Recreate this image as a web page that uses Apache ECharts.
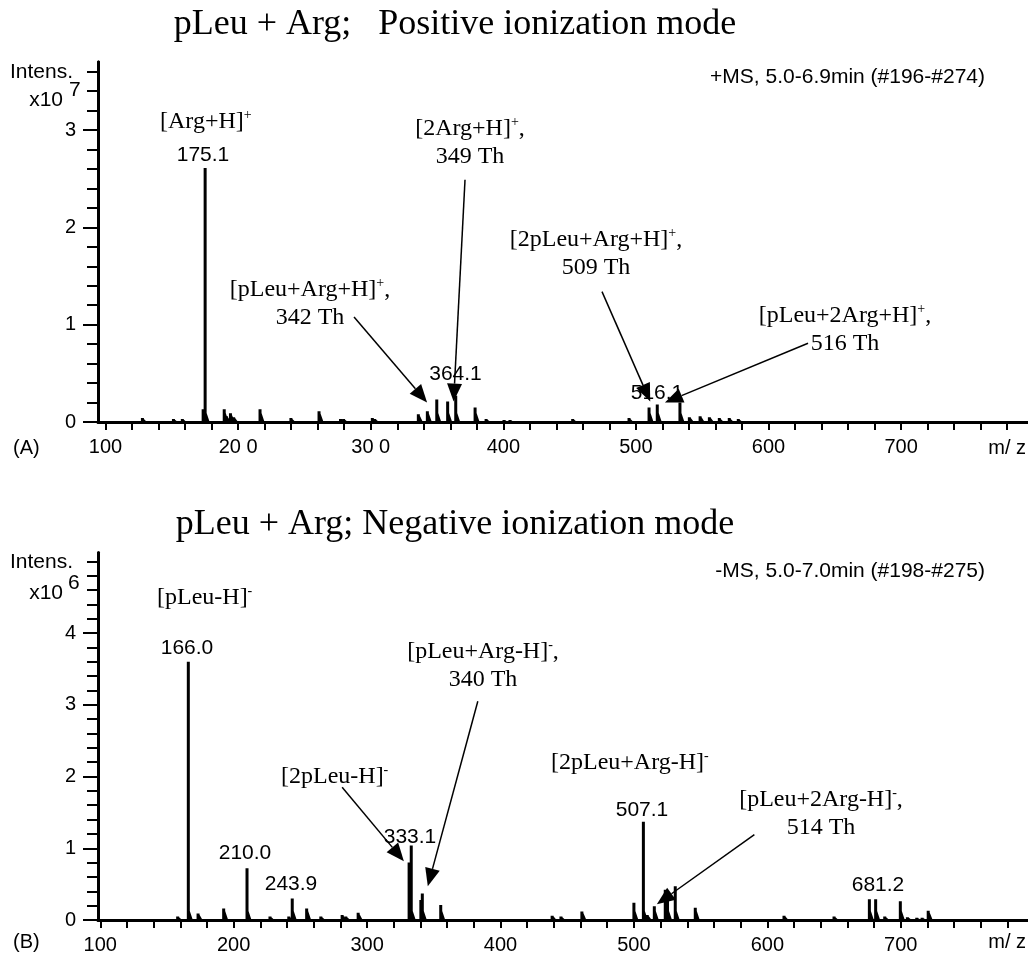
<!DOCTYPE html>
<html lang="en">
<head>
<meta charset="UTF-8">
<title>pLeu + Arg</title>
<style>
  html, body { margin: 0; padding: 0; background: #fff; }
  #main { width: 1028px; height: 955px; }
</style>
</head>
<body>
<div id="main"></div>
<script src="https://cdn.jsdelivr.net/npm/echarts@6/dist/echarts.min.js"></script>
<script>
// peaks: [m/z, intensity]
// (A) positive mode, intensity x10^7
var posPeaks = [
  [127.8, 0.04], [151.2, 0.03], [157.9, 0.03], [173.6, 0.13], [175.1, 2.61],
  [189.5, 0.13], [191.2, 0.06], [194.2, 0.09], [196.6, 0.05], [216.5, 0.13],
  [239.8, 0.04], [261.0, 0.11], [277.2, 0.03], [279.5, 0.03], [301.2, 0.04],
  [303.0, 0.03], [335.9, 0.08], [342.7, 0.11], [349.8, 0.23], [358.0, 0.21],
  [364.1, 0.27], [378.7, 0.15], [387.0, 0.03], [400.5, 0.02], [405.0, 0.02],
  [452.3, 0.03], [494.8, 0.04], [509.9, 0.15], [516.1, 0.18], [533.2, 0.20],
  [540.3, 0.05], [548.4, 0.06], [555.4, 0.05], [562.9, 0.04], [570.4, 0.04],
  [577.2, 0.03]
];
// (B) negative mode, intensity x10^6
var negPeaks = [
  [158.0, 0.05], [166.0, 3.60], [173.3, 0.09], [192.5, 0.16], [210.0, 0.72],
  [227.2, 0.05], [241.3, 0.05], [243.9, 0.30], [254.7, 0.16], [265.3, 0.05],
  [281.3, 0.07], [284.0, 0.05], [293.3, 0.10], [331.5, 0.80], [333.1, 1.04],
  [340.3, 0.28], [341.4, 0.37], [355.2, 0.21], [438.7, 0.06], [445.3, 0.05],
  [461.0, 0.12], [500.0, 0.24], [507.1, 1.37], [510.0, 0.07], [515.3, 0.19],
  [523.5, 0.42], [525.2, 0.36], [531.0, 0.47], [546.0, 0.17], [612.5, 0.06],
  [650.0, 0.05], [676.5, 0.29], [681.2, 0.29], [688.0, 0.05], [699.7, 0.26],
  [705.0, 0.04], [712.0, 0.03], [716.0, 0.03], [720.6, 0.13]
];

// arrows: [tail m/z, tail int, tip m/z, tip int]
var posArrows = [
  [371.1, 2.49, 362.5, 0.21],
  [287.4, 1.08, 342.5, 0.20],
  [474.4, 1.34, 510.8, 0.21],
  [629.8, 0.81, 521.9, 0.20]
];
var negArrows = [
  [281.3, 1.85, 327.6, 0.82],
  [383.0, 3.05, 345.5, 0.47],
  [590.3, 1.19, 517.2, 0.22]
];

// axis ticks / labels
var xLabelValues = [100, 200, 300, 400, 500, 600, 700];
var posXLabels = ['100', '20 0', '30 0', '400', '500', '600', '700'];
var negXLabels = ['100', '200', '300', '400', '500', '600', '700'];
var xTickValues = [100, 120, 140, 160, 180, 200, 220, 240, 260, 280, 300, 320, 340, 360, 380,
  400, 420, 440, 460, 480, 500, 520, 540, 560, 580, 600, 620, 640, 660, 680, 700, 720, 740, 760, 780];
var posYLabels = [0, 1, 2, 3];
var posYMinor = [0, 0.2, 0.4, 0.6, 0.8, 1, 1.2, 1.4, 1.6, 1.8, 2, 2.2, 2.4, 2.6, 2.8, 3, 3.2, 3.4, 3.6];
var negYLabels = [0, 1, 2, 3, 4];
var negYMinor = [0, 0.2, 0.4, 0.6, 0.8, 1, 1.2, 1.4, 1.6, 1.8, 2, 2.2, 2.4, 2.6, 2.8, 3, 3.2, 3.4, 3.6,
  3.8, 4, 4.2, 4.4, 4.6, 4.8, 5];

var SANS = 'Liberation Sans, Arial, sans-serif';
var SERIF = 'Liberation Serif, Times New Roman, serif';

var myChart = echarts.init(document.getElementById('main'));

function xAxisFor(grid, min, max, labels) {
  return {
    type: 'value', gridIndex: grid, min: min, max: max, position: 'bottom',
    axisLine: { lineStyle: { color: '#000', width: 3 } },
    axisTick: { customValues: xTickValues, length: 8, lineStyle: { color: '#000', width: 2 } },
    axisLabel: {
      customValues: xLabelValues, margin: 15, color: '#000', fontSize: 20, fontFamily: SANS,
      formatter: function (v) { return labels[xLabelValues.indexOf(v)]; }
    },
    splitLine: { show: false }
  };
}
// top frame line of each panel
function topBorder(grid, min, max) {
  return {
    type: 'value', gridIndex: grid, min: min, max: max, position: 'top',
    axisLine: { lineStyle: { color: '#000', width: 2 } },
    axisTick: { show: false }, axisLabel: { show: false }, splitLine: { show: false }
  };
}
function yMajor(grid, max, labels) {
  return {
    type: 'value', gridIndex: grid, min: 0, max: max, position: 'left',
    axisLine: { show: true, lineStyle: { color: '#000', width: 3 } },
    axisTick: { customValues: labels, length: 15, lineStyle: { color: '#000', width: 2 } },
    axisLabel: { customValues: labels, margin: 22, color: '#000', fontSize: 20, fontFamily: SANS },
    splitLine: { show: false }
  };
}
function yMinor(grid, max, ticks) {
  return {
    type: 'value', gridIndex: grid, min: 0, max: max, position: 'left',
    axisLine: { show: true, lineStyle: { color: '#000', width: 3 } },
    axisTick: { customValues: ticks, length: 11, lineStyle: { color: '#000', width: 2 } },
    axisLabel: { show: false },
    splitLine: { show: false }
  };
}

// one spike with a small tail on the right, like the profile peaks
function renderPeak(params, api) {
  var top = api.coord([api.value(0), api.value(1)]);
  var base = api.coord([api.value(0), 0]);
  var h = base[1] - top[1];
  var flare = Math.min(h * 0.8, 9);
  return {
    type: 'polygon',
    shape: { points: [
      [top[0] - 1.5, base[1]], [top[0] - 1.5, top[1]], [top[0] + 1.5, top[1]],
      [top[0] + 1.5, base[1] - flare], [top[0] + 4.5, base[1]]
    ] },
    style: { fill: '#000' }
  };
}
function renderArrow(params, api) {
  var p1 = api.coord([api.value(0), api.value(1)]);
  var p2 = api.coord([api.value(2), api.value(3)]);
  var dx = p2[0] - p1[0], dy = p2[1] - p1[1];
  var len = Math.sqrt(dx * dx + dy * dy);
  var ux = dx / len, uy = dy / len;
  var L = 18, W = 15;
  var bx = p2[0] - ux * L, by = p2[1] - uy * L;
  return {
    type: 'group',
    children: [
      { type: 'line', shape: { x1: p1[0], y1: p1[1], x2: bx, y2: by },
        style: { stroke: '#000', lineWidth: 1.5 } },
      { type: 'polygon', shape: { points: [
        [p2[0], p2[1]], [bx - uy * W / 2, by + ux * W / 2], [bx + uy * W / 2, by - ux * W / 2]
      ] }, style: { fill: '#000' } }
    ]
  };
}

// text helpers (pixel layout of the annotations)
var supRich = { s: { fontSize: 14, lineHeight: 10, verticalAlign: 'top', fontFamily: SERIF, fill: '#000' } };
function serifText(x, y, text, align, size) {
  return {
    type: 'text', x: x, y: y, silent: true, z: 10,
    style: { text: text, rich: supRich, fontFamily: SERIF, fontSize: size || 24, lineHeight: 28,
      fill: '#000', align: align || 'center', verticalAlign: 'middle' }
  };
}
function sansText(x, y, text, align, size) {
  return {
    type: 'text', x: x, y: y, silent: true, z: 10,
    style: { text: text, fontFamily: SANS, fontSize: size || 21, fill: '#000',
      align: align || 'center', verticalAlign: 'middle' }
  };
}

var graphics = [
  // titles
  serifText(455, 25, 'pLeu + Arg;   Positive ionization mode', 'center', 36),
  serifText(455, 525, 'pLeu + Arg; Negative ionization mode', 'center', 36),

  // panel A
  sansText(73, 72, 'Intens.', 'right'),
  sansText(63, 100, 'x10', 'right'),
  sansText(69, 90, '7', 'left'),
  sansText(13, 448, '(A)', 'left', 20),
  sansText(1026, 448, 'm/ z', 'right', 20),
  sansText(985, 77, '+MS, 5.0-6.9min (#196-#274)', 'right'),
  serifText(160, 122, '[Arg+H]{s|+}', 'left'),
  sansText(203, 155, '175.1'),
  serifText(470, 143, '[2Arg+H]{s|+},\n349 Th'),
  serifText(310, 304, '[pLeu+Arg+H]{s|+},\n342 Th'),
  serifText(596, 254, '[2pLeu+Arg+H]{s|+},\n509 Th'),
  serifText(845, 330, '[pLeu+2Arg+H]{s|+},\n516 Th'),
  sansText(455.5, 374, '364.1'),
  sansText(657, 393, '516.1'),

  // panel B
  sansText(73, 562, 'Intens.', 'right'),
  sansText(63, 593, 'x10', 'right'),
  sansText(68, 583, '6', 'left'),
  sansText(13, 942, '(B)', 'left', 20),
  sansText(1026, 942, 'm/ z', 'right', 20),
  sansText(985, 571, '-MS, 5.0-7.0min (#198-#275)', 'right'),
  serifText(157, 598, '[pLeu-H]{s|-}', 'left'),
  sansText(187, 648, '166.0'),
  sansText(245, 853, '210.0'),
  sansText(291, 884, '243.9'),
  serifText(281, 777, '[2pLeu-H]{s|-}', 'left'),
  sansText(410, 837, '333.1'),
  serifText(483, 666, '[pLeu+Arg-H]{s|-},\n340 Th'),
  serifText(551, 763, '[2pLeu+Arg-H]{s|-}', 'left'),
  sansText(642, 810, '507.1'),
  serifText(821, 814, '[pLeu+2Arg-H]{s|-},\n514 Th'),
  sansText(878, 885, '681.2')
];

var option = {
  backgroundColor: '#fff',
  animation: false,
  grid: [
    { left: 98, top: 62, width: 930, height: 360 },
    { left: 98, top: 552.7, width: 930, height: 368 }
  ],
  xAxis: [
    xAxisFor(0, 94.3, 795.7, posXLabels),
    topBorder(0, 94.3, 795.7),
    xAxisFor(1, 98.3, 795.4, negXLabels),
    topBorder(1, 98.3, 795.4)
  ],
  yAxis: [
    yMajor(0, 3.7, posYLabels),
    yMinor(0, 3.7, posYMinor),
    yMajor(1, 5.12, negYLabels),
    yMinor(1, 5.12, negYMinor)
  ],
  series: [
    { type: 'custom', xAxisIndex: 0, yAxisIndex: 0, data: posPeaks, renderItem: renderPeak,
      encode: { x: 0, y: 1 }, silent: true },
    { type: 'custom', xAxisIndex: 2, yAxisIndex: 2, data: negPeaks, renderItem: renderPeak,
      encode: { x: 0, y: 1 }, silent: true },
    { type: 'custom', xAxisIndex: 0, yAxisIndex: 0, data: posArrows, renderItem: renderArrow,
      encode: { x: [0, 2], y: [1, 3] }, silent: true, z: 5 },
    { type: 'custom', xAxisIndex: 2, yAxisIndex: 2, data: negArrows, renderItem: renderArrow,
      encode: { x: [0, 2], y: [1, 3] }, silent: true, z: 5 }
  ],
  graphic: graphics
};

myChart.setOption(option);
</script>
</body>
</html>
